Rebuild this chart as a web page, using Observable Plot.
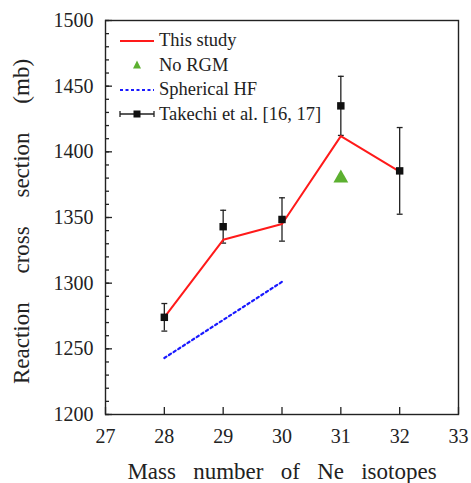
<!DOCTYPE html>
<html><head><meta charset="utf-8">
<script src="https://cdn.jsdelivr.net/npm/d3@7"></script>
<script src="https://cdn.jsdelivr.net/npm/@observablehq/plot@0.6"></script>
<style>
body{margin:0;background:#fff;}
#wrap{position:relative;width:471px;height:483px;font-family:"Liberation Serif","Times New Roman",serif;}
#legend{position:absolute;left:118px;top:28.5px;font-size:18.5px;color:#222;}
.row{display:flex;align-items:center;height:24.5px;}
.row svg{width:38px;height:14px;margin-right:3px;}
</style>
</head><body><div id="wrap"><div id="legend"></div></div>
<script>
const massNumbers = [28, 29, 30, 31, 32];
const thisStudy = [1274, 1333, 1345, 1412, 1385];
const expValues = [1274, 1343, 1348.5, 1435, 1385.5];
const expErrors = [10.5, 12.5, 16.5, 22.5, 33];
const noRGMMass = [31];
const noRGMValues = [1380];
const hfMass = [28, 30];
const hfValues = [1243, 1301];
const xTicks = [27, 28, 29, 30, 31, 32, 33];
const yTicks = [1200, 1250, 1300, 1350, 1400, 1450, 1500];
const yMinor = d3.range(1200, 1501, 10);
const xTitle = "Mass number of Ne isotopes";
const yTitle = "Reaction cross section (mb)";

const study = massNumbers.map((A, i) => ({A, v: thisStudy[i]}));
const exp = massNumbers.map((A, i) => ({A, v: expValues[i], e: expErrors[i]}));
const rgm = noRGMMass.map((A, i) => ({A, v: noRGMValues[i]}));
const hf = hfMass.map((A, i) => ({A, v: hfValues[i]}));

const W = 471, H = 483, ML = 105, MR = 13, MT = 20, MB = 69;
const PW = W - ML - MR, PH = H - MT - MB;
const wide = (s, n) => s.split(" ").join(" " + "\u00a0".repeat(n));

const chart = Plot.plot({
  width: W, height: H,
  marginLeft: ML, marginRight: MR, marginTop: MT, marginBottom: MB,
  style: {fontFamily: '"Liberation Serif","Times New Roman",serif', fontSize: "20px", color: "#222"},
  x: {domain: [27, 33]},
  y: {domain: [1200, 1500]},
  marks: [
    Plot.frame({stroke: "#222", strokeWidth: 1.4}),
    Plot.axisX({ticks: xTicks, tickSize: 0, tickPadding: 14, tickFormat: d => String(d), label: null, fontSize: 20}),
    Plot.axisY({ticks: yTicks, tickSize: 0, tickPadding: 12, tickFormat: d => String(d), label: null, fontSize: 20}),
    Plot.tickX(xTicks, {x: d => d, insetTop: PH - 7, stroke: "#222", strokeWidth: 1.3}),
    Plot.tickY(yMinor, {y: d => d, insetRight: PW - 4, stroke: "#222", strokeWidth: 1.3}),
    Plot.tickY(yTicks, {y: d => d, insetRight: PW - 7, stroke: "#222", strokeWidth: 1.3}),
    Plot.line(hf, {x: "A", y: "v", stroke: "#1a1aff", strokeWidth: 2.2, strokeDasharray: "2.5,3"}),
    Plot.ruleX(exp, {x: "A", y1: d => d.v - d.e, y2: d => d.v + d.e, stroke: "#222", strokeWidth: 1.3}),
    Plot.link(exp, {x1: d => d.A - 0.05, x2: d => d.A + 0.05, y1: d => d.v - d.e, y2: d => d.v - d.e, stroke: "#222", strokeWidth: 1.3}),
    Plot.link(exp, {x1: d => d.A - 0.05, x2: d => d.A + 0.05, y1: d => d.v + d.e, y2: d => d.v + d.e, stroke: "#222", strokeWidth: 1.3}),
    Plot.line(study, {x: "A", y: "v", stroke: "#ff1a1a", strokeWidth: 2}),
    Plot.dot(exp, {x: "A", y: "v", symbol: "square", fill: "#111", r: 4.2}),
    Plot.dot(rgm, {x: "A", y: "v", symbol: "triangle", fill: "#5cb030", r: 5.5}),
    Plot.text([wide(xTitle, 2)], {frameAnchor: "bottom", dy: 64, text: d => d, fontSize: 23}),
    Plot.text([wide(yTitle, 4)], {frameAnchor: "left", textAnchor: "middle", dx: -84, dy: 4, rotate: -90, text: d => d, fontSize: 23})
  ]
});
document.getElementById("wrap").prepend(chart);

const legendItems = [
  {label: "This study", sw: '<line x1="2" y1="7" x2="36" y2="7" stroke="#ff1a1a" stroke-width="2"/>'},
  {label: "No RGM", sw: '<path d="M19,2.5 L23,10.5 L15,10.5 Z" fill="#5cb030"/>'},
  {label: "Spherical HF", sw: '<line x1="2" y1="7" x2="36" y2="7" stroke="#1a1aff" stroke-width="2.2" stroke-dasharray="3,2.5"/>'},
  {label: "Takechi et al. [16, 17]", sw: '<line x1="2" y1="7" x2="36" y2="7" stroke="#222" stroke-width="1.3"/><line x1="2" y1="4" x2="2" y2="10" stroke="#222" stroke-width="1.3"/><line x1="36" y1="4" x2="36" y2="10" stroke="#222" stroke-width="1.3"/><rect x="15.5" y="3.5" width="7" height="7" fill="#111"/>'}
];
const leg = document.getElementById("legend");
legendItems.forEach(it => {
  const r = document.createElement("div");
  r.className = "row";
  r.innerHTML = `<svg viewBox="0 0 38 14">${it.sw}</svg><span>${it.label}</span>`;
  leg.appendChild(r);
});
</script></body></html>
